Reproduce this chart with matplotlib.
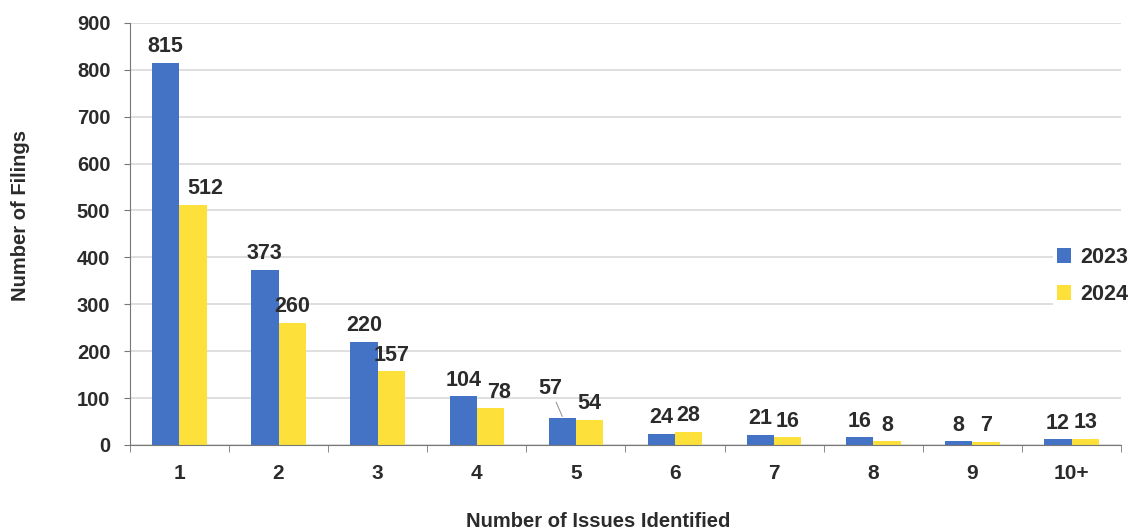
import matplotlib.pyplot as plt
import numpy as np
from matplotlib.ticker import FixedLocator

plt.rcParams['font.family'] = ['Liberation Sans', 'DejaVu Sans']

categories = ['1', '2', '3', '4', '5', '6', '7', '8', '9', '10+']
filings_2023 = [815, 373, 220, 104, 57, 24, 21, 16, 8, 12]
filings_2024 = [512, 260, 157, 78, 54, 28, 16, 8, 7, 13]

blue = '#4472c4'
yellow = '#fde03a'
txt = '#2b2b2b'

fig = plt.figure(figsize=(11.29, 5.31), dpi=100)
ax = fig.add_axes([0.115, 0.162, 0.878, 0.795])

x = np.arange(len(categories))
w = 0.275
ax.bar(x - w / 2, filings_2023, w, color=blue, label='2023', zorder=2)
ax.bar(x + w / 2, filings_2024, w, color=yellow, label='2024', zorder=2)

# value labels above each bar (a few nudged sideways so they don't collide)
nudge_2024 = {0: 0.12, 3: 0.09}
for i, (v1, v2) in enumerate(zip(filings_2023, filings_2024)):
    if i == 4:
        ax.annotate(str(v1), xy=(x[i] - w / 2, v1 + 4), xytext=(x[i] - w / 2 - 0.12, v1 + 40),
                    ha='center', va='bottom', fontsize=15.5, fontweight='bold', color=txt,
                    arrowprops=dict(arrowstyle='-', color='#999999', lw=0.8,
                                    shrinkA=0, shrinkB=0))
    else:
        ax.text(x[i] - w / 2, v1 + 12, str(v1), ha='center', va='bottom',
                fontsize=15.5, fontweight='bold', color=txt)
    ax.text(x[i] + w / 2 + nudge_2024.get(i, 0), v2 + 12, str(v2), ha='center', va='bottom',
            fontsize=15.5, fontweight='bold', color=txt)

ax.set_xlim(-0.5, len(categories) - 0.5)
ax.set_ylim(0, 900)
ax.set_yticks(range(0, 901, 100))
ax.set_xticks(x)
ax.set_xticklabels(categories)
ax.xaxis.set_minor_locator(FixedLocator(np.arange(-0.5, len(categories), 1.0)))
ax.tick_params(axis='x', which='major', length=0, pad=14, labelsize=15, labelcolor=txt)
ax.tick_params(axis='x', which='minor', length=5, color='#777777', direction='out')
ax.tick_params(axis='y', length=4, color='#777777', labelsize=14.5, labelcolor=txt, pad=10)
for lab in ax.get_xticklabels() + ax.get_yticklabels():
    lab.set_fontweight('bold')

ax.grid(axis='y', color='#d9d9d9', lw=1.2, zorder=0)
for s in ['top', 'right']:
    ax.spines[s].set_visible(False)
ax.spines['left'].set_color('#777777')
ax.spines['bottom'].set_color('#777777')

ax.set_ylabel('Number of Filings', fontsize=14.5, fontweight='bold', color=txt)
ax.yaxis.set_label_coords(-0.101, 0.543)
fig.text(0.53, 0.018, 'Number of Issues Identified', ha='center', va='center',
         fontsize=14.5, fontweight='bold', color=txt)

leg = ax.legend(loc='center right', bbox_to_anchor=(1.022, 0.40), frameon=True, framealpha=1,
                edgecolor='none', fontsize=15.5, handlelength=0.65, handleheight=0.65,
                handletextpad=0.4, labelspacing=0.75, borderpad=0.2)
for t in leg.get_texts():
    t.set_fontweight('bold')
    t.set_color(txt)

fig.savefig('out.png', dpi=100)
